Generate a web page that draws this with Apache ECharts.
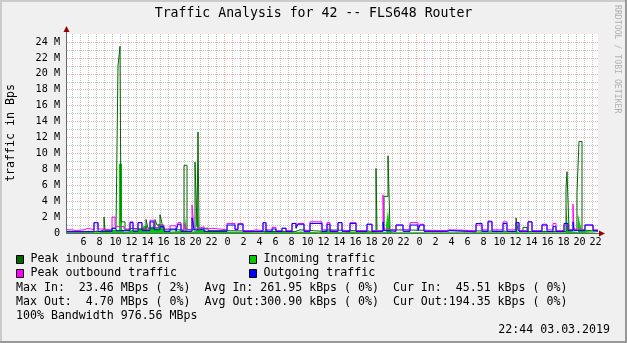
<!DOCTYPE html>
<html><head><meta charset="utf-8">
<style>html,body{margin:0;padding:0;background:#F0F0F0}#c{width:627px;height:343px}</style>
<script src="https://cdn.jsdelivr.net/npm/echarts@6/dist/echarts.min.js"></script>
</head><body><div id="c"></div><script>
// time in hours since 01.03.2019 00:00 ; values in M (Bps), each value holds until the next time
const START = 4.375, END = 70.75;
const incoming = [[4.375,0.1],[8.5,0.3],[9.0,0.1],[10.0,0.4],[10.5,0.3],[10.875,8.7],[11.25,0.5],[11.5,0.2],[12.0,0.4],[12.5,0.2],[12.75,0.3],[13.25,0.6],[13.75,0.4],[14.0,0.9],[14.375,0.5],[14.75,0.8],[15.25,1.0],[15.5,0.6],[15.75,1.1],[16.25,1.3],[16.5,0.6],[16.75,0.2],[18.0,0.3],[18.5,0.2],[19.125,2.0],[19.375,0.2],[20.25,0.4],[20.625,4.0],[20.875,0.4],[21.5,0.2],[22.0,0.1],[29.0,0.3],[29.5,0.1],[33.0,0.2],[33.5,0.1],[36.0,0.3],[36.5,0.1],[39.0,0.2],[39.5,0.1],[44.25,1.0],[44.5,2.9],[44.75,0.5],[45.0,0.1],[60.5,0.6],[60.75,0.1],[66.75,3.6],[67.0,0.3],[67.25,0.1],[68.25,2.4],[68.5,1.2],[68.75,0.3],[69.0,0.1]];
const peakIn = [[4.375,0.2],[8.5,0.4],[9.0,2.0],[9.125,0.3],[10.0,0.6],[10.5,0.5],[10.75,21.0],[11.0,23.46],[11.125,1.4],[11.625,0.4],[12.0,0.6],[12.5,0.4],[14.25,1.7],[14.5,0.6],[15.375,1.7],[15.625,1.0],[16.0,2.3],[16.25,1.2],[16.5,0.4],[18.5,0.3],[19.0,8.5],[19.375,0.4],[20.375,8.9],[20.625,0.8],[20.75,12.7],[20.875,0.6],[21.5,0.6],[22.0,0.3],[24.0,0.2],[29.25,0.5],[29.5,0.2],[33.0,0.4],[33.5,0.2],[36.5,0.4],[37.0,0.2],[43.0,8.1],[43.125,0.3],[44.0,4.6],[44.5,9.7],[44.75,0.4],[45.0,0.2],[60.5,1.9],[60.75,0.3],[61.375,0.7],[61.875,0.2],[66.75,5.6],[66.875,7.7],[67.125,0.4],[68.125,5.1],[68.375,11.5],[68.75,0.4],[69.0,0.2]];
const peakOut = [[4.375,0.4],[5.0,0.3],[5.5,0.4],[6.5,0.6],[7.0,0.4],[7.75,1.3],[8.25,0.5],[8.75,0.4],[10.0,2.0],[10.375,0.8],[11.5,0.5],[12.25,1.4],[12.625,0.5],[13.25,1.3],[13.75,0.5],[14.75,1.6],[15.25,0.7],[16.0,1.0],[16.5,0.5],[17.25,0.9],[18.0,0.5],[18.25,1.3],[18.625,0.4],[19.0,1.2],[19.25,0.4],[20.0,3.5],[20.25,0.6],[21.0,0.8],[21.5,0.5],[22.0,0.6],[22.5,0.4],[24.375,1.2],[25.375,0.5],[25.75,1.2],[26.375,0.3],[27.5,0.4],[28.0,0.3],[28.875,1.3],[29.25,0.4],[30.0,0.7],[30.5,0.3],[31.25,0.6],[31.75,0.3],[32.5,1.2],[33.0,0.7],[33.25,1.2],[34.0,0.3],[34.75,1.4],[36.25,0.4],[36.875,1.3],[37.25,0.3],[38.25,1.3],[38.75,0.3],[39.75,1.3],[40.5,0.3],[41.875,1.1],[42.5,0.3],[43.875,4.8],[44.0,0.5],[44.5,0.3],[45.5,1.0],[46.375,0.4],[47.25,1.3],[48.25,0.5],[48.5,1.1],[49.0,0.3],[51.75,0.4],[52.25,0.3],[55.5,1.0],[56.25,0.4],[57.0,1.5],[57.5,0.4],[58.875,1.4],[59.375,0.4],[60.5,1.3],[60.875,0.3],[62.0,1.4],[62.5,0.3],[63.75,1.1],[64.375,0.4],[65.125,1.2],[65.5,0.3],[66.5,1.0],[67.0,0.4],[67.625,3.6],[67.75,0.5],[68.0,0.4],[69.125,1.0],[70.125,0.4]];
const outgoing = [[4.375,0.15],[7.75,1.3],[8.25,0.2],[10.0,0.6],[10.5,0.3],[12.25,1.3],[12.625,0.2],[13.25,1.3],[13.75,0.3],[14.75,1.4],[15.25,0.4],[16.0,0.8],[16.5,0.2],[17.25,0.5],[18.0,0.2],[18.25,1.1],[18.625,0.2],[20.0,1.9],[20.25,0.4],[21.0,0.5],[21.5,0.2],[24.375,1.0],[25.375,0.4],[25.75,1.1],[26.375,0.2],[28.875,1.3],[29.25,0.2],[30.0,0.5],[30.5,0.2],[31.25,0.6],[31.75,0.2],[32.5,1.2],[33.0,0.6],[33.25,1.1],[34.0,0.2],[34.75,1.2],[36.25,0.2],[36.875,1.1],[37.25,0.2],[38.25,1.3],[38.75,0.2],[39.75,1.2],[40.5,0.2],[41.875,1.1],[42.5,0.2],[43.875,1.4],[44.0,0.3],[44.5,0.2],[45.5,1.0],[46.375,0.2],[47.25,1.0],[48.25,0.3],[48.5,1.0],[49.0,0.2],[51.875,0.3],[52.25,0.15],[55.5,1.2],[56.25,0.2],[57.0,1.4],[57.5,0.2],[58.875,1.2],[59.375,0.2],[60.5,1.3],[60.875,0.2],[62.0,1.4],[62.5,0.2],[63.75,1.0],[64.375,0.2],[65.125,0.8],[65.5,0.2],[66.5,1.2],[67.0,0.3],[67.625,1.4],[67.75,0.3],[69.125,1.0],[70.125,0.3]];
const legendNames = ['Peak inbound traffic','Incoming traffic','Peak outbound traffic','Outgoing traffic'];
const legendColors = ['#006600','#00CC00','#FF00FF','#0000FF'];
const statLines = [
  'Max In:  23.46 MBps ( 2%)  Avg In: 261.95 kBps ( 0%)  Cur In:  45.51 kBps ( 0%)',
  'Max Out:  4.70 MBps ( 0%)  Avg Out:300.90 kBps ( 0%)  Cur Out:194.35 kBps ( 0%)',
  '100% Bandwidth 976.56 MBps'
];
const titleText = 'Traffic Analysis for 42 -- FLS648 Router';
const stampText = '22:44 03.03.2019';

function build(arr){ const d = arr.map(p=>[p[0],p[1]]); d.push([END, arr[arr.length-1][1]]); return d; }

const MONO = 'DejaVu Sans Mono';
const GRIDC = 'rgba(170,170,170,0.7)';
const MGRIDC = 'rgba(230,110,110,0.55)';
// x split line colours: one tick every 7.5 min, starting at START
const xColors = [];
for (let i=0;i<192;i++){ xColors.push(i===157 ? MGRIDC : (i%8===5 ? GRIDC : 'rgba(0,0,0,0)')); }

const chart = echarts.init(document.getElementById('c'));
const g = [];
g.push({type:'rect',shape:{x:0,y:0,width:627,height:2},style:{fill:'#CBCBCB'},silent:true});
g.push({type:'rect',shape:{x:0,y:0,width:2,height:343},style:{fill:'#CBCBCB'},silent:true});
g.push({type:'rect',shape:{x:0,y:341,width:627,height:2},style:{fill:'#999999'},silent:true});
g.push({type:'rect',shape:{x:625,y:0,width:2,height:343},style:{fill:'#999999'},silent:true});
g.push({type:'text',x:313.5,y:14,style:{text:titleText,font:'13.2px "DejaVu Sans Mono"',fill:'#000',align:'center',verticalAlign:'middle'}});
g.push({type:'text',x:11,y:133,rotation:Math.PI/2,style:{text:'traffic in Bps',font:'11.6px "DejaVu Sans Mono"',fill:'#000',align:'center',verticalAlign:'middle'}});
g.push({type:'text',x:617,y:5,rotation:-Math.PI/2,style:{text:'RRDTOOL / TOBI OETIKER',font:'8.2px "DejaVu Sans Mono"',fill:'#b0b0b0',align:'left',verticalAlign:'middle'}});
const lx = [16,249], ly = [259,273];
for (let i=0;i<4;i++){
  const cx = lx[i%2], cy = ly[Math.floor(i/2)];
  g.push({type:'rect',shape:{x:cx+0.5,y:cy-3.5,width:7,height:8},style:{fill:legendColors[i],stroke:'#000',lineWidth:1}});
  g.push({type:'text',x:cx+14.5,y:cy,style:{text:legendNames[i],font:'11.6px "DejaVu Sans Mono"',fill:'#000',align:'left',verticalAlign:'middle'}});
}
const sy = [287.5,301.5,315.5];
statLines.forEach((t,i)=>g.push({type:'text',x:16,y:sy[i],style:{text:t,font:'11.6px "DejaVu Sans Mono"',fill:'#000',align:'left',verticalAlign:'middle'}}));
g.push({type:'text',x:610,y:329.5,style:{text:stampText,font:'11.6px "DejaVu Sans Mono"',fill:'#000',align:'right',verticalAlign:'middle'}});
g.push({type:'line',z:100,shape:{x1:66.5,y1:233.5,x2:601,y2:233.5},style:{stroke:'#666',lineWidth:1}});
g.push({type:'line',z:100,shape:{x1:66.5,y1:233.5,x2:66.5,y2:30},style:{stroke:'#666',lineWidth:1}});
g.push({type:'polygon',z:101,shape:{points:[[605,233.5],[599,230.5],[599,236.5]]},style:{fill:'#990000'}});
g.push({type:'polygon',z:101,shape:{points:[[66.5,26],[63.5,32],[69.5,32]]},style:{fill:'#990000'}});

const lineBase = {type:'line', step:'end', symbol:'none', showSymbol:false, animation:false, silent:true};
chart.setOption({
  animation:false,
  backgroundColor:'#F0F0F0',
  grid:{left:67,right:29,top:34,bottom:110,show:true,backgroundColor:'#FFFFFF',borderWidth:0},
  xAxis:{type:'value',min:START,max:END,interval:0.125,
    axisLine:{show:false},axisTick:{show:false},
    splitLine:{show:true,lineStyle:{color:xColors,width:1,type:[1,1]}},
    axisLabel:{fontFamily:MONO,fontSize:10.15,color:'#000',margin:4,padding:[0,0,0,7],
      formatter:function(v){const h=Math.round(v*8)/8; const r=Math.round(h); if(Math.abs(h-r)<1e-6 && r%2===0) return String(r%24); return '';}}},
  yAxis:{type:'value',min:0,max:25,interval:1,
    axisLine:{show:false},axisTick:{show:false},
    splitLine:{show:true,showMaxLine:false,lineStyle:{color:[MGRIDC,GRIDC],width:1,type:[1,1]}},
    axisLabel:{fontFamily:MONO,fontSize:10.15,color:'#000',margin:7,
      formatter:function(v){ if(v===0) return '0'; return (v%2===0 && v<=24) ? v+' M' : ''; }}},
  series:[
    Object.assign({},lineBase,{name:legendNames[1],data:build(incoming),z:2,lineStyle:{width:0,color:'#00CC00'},itemStyle:{color:'#00CC00'},areaStyle:{color:'#00CC00',opacity:1}}),
    Object.assign({},lineBase,{name:legendNames[0],data:build(peakIn),z:3,lineStyle:{width:1,color:'#006600'},itemStyle:{color:'#006600'}}),
    Object.assign({},lineBase,{name:legendNames[2],data:build(peakOut),z:4,lineStyle:{width:1,color:'#FF00FF'},itemStyle:{color:'#FF00FF'}}),
    Object.assign({},lineBase,{name:legendNames[3],data:build(outgoing),z:5,lineStyle:{width:1,color:'#0000FF'},itemStyle:{color:'#0000FF'}})
  ],
  graphic:g
});
</script></body></html>
